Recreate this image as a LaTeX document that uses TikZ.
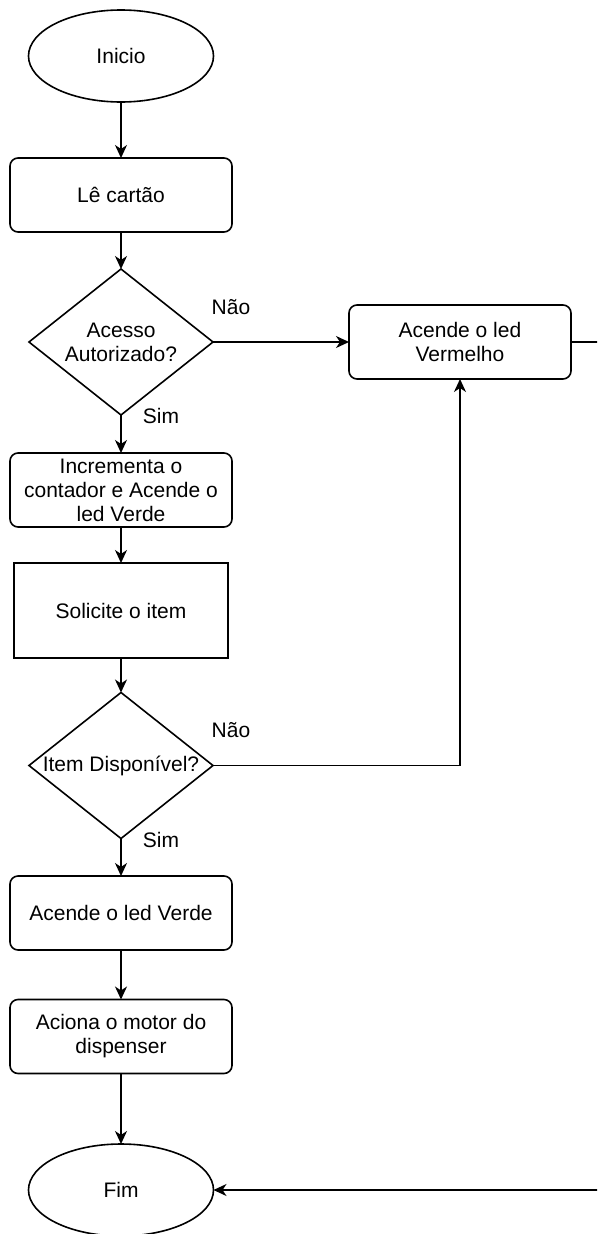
\documentclass[tikz,border=0pt]{standalone}
\usepackage{fontspec}
\setmainfont{Liberation Sans}
\usetikzlibrary{shapes.geometric,arrows.meta}
\begin{document}
\begin{tikzpicture}[x=1pt,y=-1pt,
  every node/.style={font=\fontsize{21}{25}\selectfont, text=black, outer sep=0pt},
  line/.style={line width=1.6pt, draw=black},
  arr/.style={line, -{Stealth[length=13pt,width=12pt,inset=4pt]}},
  term/.style={ellipse, draw, line width=1.6pt, minimum width=185pt, minimum height=92pt, inner sep=0pt},
  proc/.style={rectangle, rounded corners=8pt, draw, line width=1.6pt, minimum width=222pt, minimum height=74pt, inner sep=0pt, align=center},
  plain/.style={rectangle, draw, line width=1.6pt, minimum width=214pt, minimum height=95pt, inner sep=0pt, align=center},
  dec/.style={diamond, draw, line width=1.6pt, minimum width=184pt, minimum height=146pt, inner sep=0pt},
  lbl/.style={inner sep=0pt, align=center},
  edgelbl/.style={inner sep=0pt}
]
\useasboundingbox (0,0) rectangle (597,1234);
\clip (0,0) rectangle (597,1234);

\node[term] (inicio) at (121,56) {Inicio};
\node[proc] (le) at (121,195) {Lê cartão};
\node[dec] (d1) at (121,342) {};
\node[lbl] (d1t) at (121,342) {Acesso\\[-1pt]Autorizado?};
\node[proc] (verm) at (460,342) {Acende o led\\[-1pt]Vermelho};
\node[proc] (inc) at (121,490) {Incrementa o\\[-1pt]contador e Acende o\\[-1pt]led Verde};
\node[plain] (sol) at (121,610.5) {Solicite o item};
\node[dec] (d2) at (121,765.5) {};
\node[lbl] (d2t) at (121,765.5) {Item Disponível?};
\node[proc] (verde) at (121,913) {Acende o led Verde};
\node[proc] (aciona) at (121,1036.5) {Aciona o motor do\\[-1pt]dispenser};
\node[term] (fim) at (121,1190) {Fim};

\node[edgelbl] (nao1) at (231,307) {Não};
\node[edgelbl] (sim1) at (161,416) {Sim};
\node[edgelbl] (nao2) at (231,730) {Não};
\node[edgelbl] (sim2) at (161,840) {Sim};

\coordinate (r1) at (610,342);
\coordinate (r2) at (610,1190);

\draw[arr] (inicio) -- (le);
\draw[arr] (le) -- (d1);
\draw[arr] (d1.east) -- (verm.west);
\draw[arr] (d1.south) -- (inc.north);
\draw[arr] (inc) -- (sol);
\draw[arr] (sol) -- (d2.north);
\draw[arr] (d2.east) -| (verm.south);
\draw[arr] (d2.south) -- (verde.north);
\draw[arr] (verde) -- (aciona);
\draw[arr] (aciona) -- (fim);
\draw[arr] (verm.east) -- (r1) -- (r2) -- (fim.east);
\end{tikzpicture}
\end{document}
